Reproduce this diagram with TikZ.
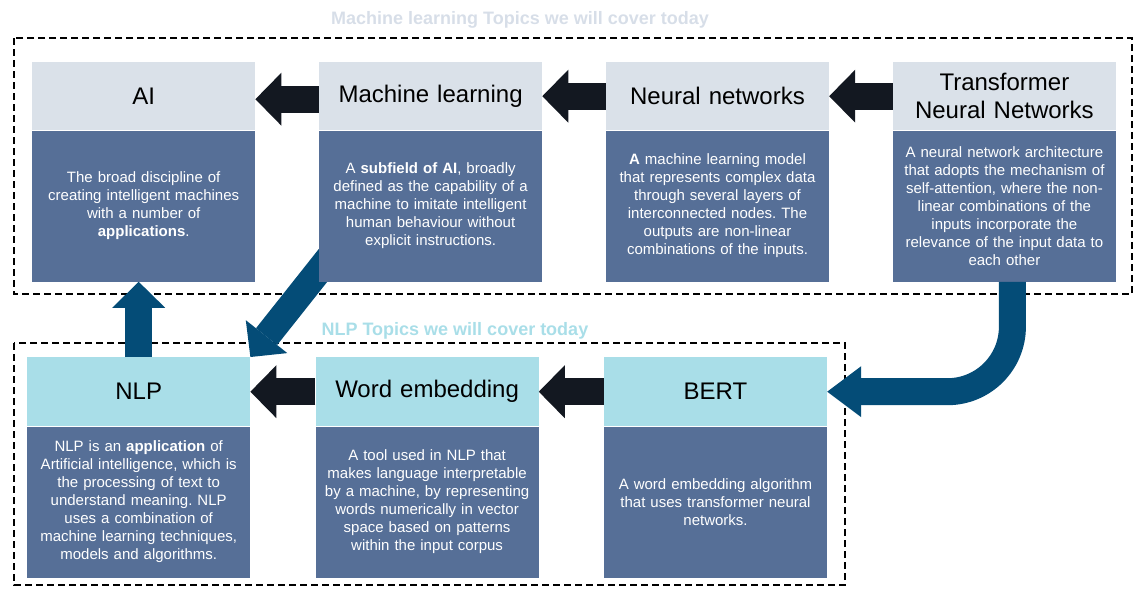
\documentclass[tikz,border=0pt]{standalone}
\usepackage{fontspec}
\setmainfont{Liberation Sans}
\usetikzlibrary{positioning,arrows.meta,backgrounds}
\frenchspacing

\definecolor{hdrtop}{HTML}{DAE1E9}
\definecolor{hdrnlp}{HTML}{A9DEE8}
\definecolor{bodyblue}{HTML}{566F97}
\definecolor{arrdark}{HTML}{131821}
\definecolor{arrblue}{HTML}{044C77}
\definecolor{ttlgrey}{HTML}{D7DEE8}

\tikzset{
  hdr/.style={fill=hdrtop, text=black, text width=215pt, inner xsep=4pt, inner ysep=0pt,
    minimum height=68pt, align=center, font=\fontsize{24}{28}\selectfont},
  nlphdr/.style={hdr, fill=hdrnlp, minimum height=69pt},
  desc/.style={fill=bodyblue, text=white, text width=215pt, inner xsep=4pt, inner ysep=0pt,
    minimum height=151pt, align=center, font=\fontsize{15}{18}\selectfont},
  darrow/.style={draw=arrdark, line width=27pt, -{Triangle[length=26pt, width=53pt, line width=0pt]}},
  barrow/.style={draw=arrblue, line width=27pt, -{Triangle[length=26pt, width=53pt, line width=0pt]}},
  topicbox/.style={draw=black, line width=2pt, dash pattern=on 7pt off 4pt},
  topictitle/.style={font=\bfseries\fontsize{18}{21}\selectfont}
}

\begin{document}
\begin{tikzpicture}[x=1pt, y=-1pt]
  \useasboundingbox (0,0) rectangle (1141,598);

  \node [topictitle, text=ttlgrey] (mltitle) at (520,20) {Machine learning Topics we will cover today};
  \node [topictitle, text=hdrnlp, anchor=west] (nlptitle) at (318,331) {NLP Topics we will cover today};

  % machine learning row
  \node [hdr, anchor=north west] (ai) at (32,62) {AI};
  \node [hdr, right=63.5pt of ai] (ml) {Machine learning};
  \node [hdr, right=63.5pt of ml] (nn) {Neural networks};
  \node [hdr, right=63.5pt of nn] (tnn) {Transformer\\Neural Networks};
  \node [desc, below=0pt of ai] (aib) {The broad discipline of\\creating intelligent machines\\with a number of\\\textbf{applications}.};
  \node [desc, below=0pt of ml] (mlb) {A \textbf{subfield of AI}, broadly\\defined as the capability of a\\machine to imitate intelligent\\human behaviour without\\explicit instructions.};
  \node [desc, below=0pt of nn] (nnb) {\textbf{A} machine learning model\\that represents complex data\\through several layers of\\interconnected nodes. The\\outputs are non-linear\\combinations of the inputs.};
  \node [desc, below=0pt of tnn] (tnnb) {A neural network architecture\\that adopts the mechanism of\\self-attention, where the non-\\linear combinations of the\\inputs incorporate the\\relevance of the input data to\\each other};

  % nlp row
  \node [nlphdr, anchor=north west] (nlp) at (27,357) {NLP};
  \node [nlphdr, right=65pt of nlp] (we) {Word embedding};
  \node [nlphdr, right=65pt of we] (bert) {BERT};
  \node [desc, below=0pt of nlp] (nlpb) {NLP is an \textbf{application} of\\Artificial intelligence, which is\\the processing of text to\\understand meaning. NLP\\uses a combination of\\machine learning techniques,\\models and algorithms.};
  \node [desc, below=0pt of we] (web) {A tool used in NLP that\\makes language interpretable\\by a machine, by representing\\words numerically in vector\\space based on patterns\\within the input corpus};
  \node [desc, below=0pt of bert] (bertb) {A word embedding algorithm\\that uses transformer neural\\networks.};

  \begin{scope}[on background layer]
    \draw [topicbox] (14,38) rectangle (1132,294);
    \draw [topicbox] (14,343) rectangle (845,585);
    \coordinate (mlfoot) at (340,244);
    \draw [barrow] (mlfoot) -- (nlp.north east);
  \end{scope}

  \draw [darrow] ([yshift=-3pt]ml.west) -- ([yshift=-3pt]ai.east);
  \draw [darrow] (nn.west) -- (ml.east);
  \draw [darrow] (tnn.west) -- (nn.east);
  \draw [darrow] (we.west) -- (nlp.east);
  \draw [darrow] (bert.west) -- (we.east);
  \draw [barrow] (nlp.north) -- (nlp.north |- aib.south);
  \draw [barrow, -{Triangle[length=34pt, width=51pt, line width=0pt]}, rounded corners=65pt]
    ([xshift=8pt]tnnb.south) |- (bert.east);
\end{tikzpicture}
\end{document}
